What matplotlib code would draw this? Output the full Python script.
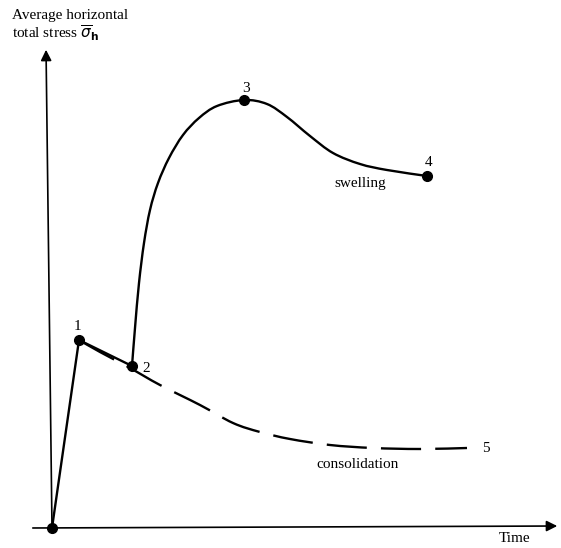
import numpy as np
import matplotlib.pyplot as plt
from matplotlib.path import Path
from matplotlib.patches import PathPatch

plt.rcParams['font.family'] = ['Liberation Serif', 'DejaVu Serif']

# loading path: start -> 1 -> 2
load_t = [0, 27, 80]
load_s = [0, 188, 162]

# swelling path: 2 -> 3 -> 4
swell_t = [80, 83, 87, 92, 98, 106, 117, 131, 147, 165, 192,
           215, 235, 258, 281, 308, 335, 375]
swell_s = [162, 200, 245, 285, 318, 345, 370, 393, 410, 422, 428,
           424, 411, 392, 375, 364, 358, 352]

# consolidation path: 1 -> 5
cons_t = [27, 48, 78, 108, 148, 181, 208, 238, 278, 321, 368, 415]
cons_s = [188, 176, 160, 143, 123, 105, 96, 89, 83, 80, 79, 80]

# labelled points
pt_t = [0, 27, 80, 192, 375]
pt_s = [0, 188, 162, 428, 352]


def smooth_path(xs, ys):
    # cubic bezier through the points (catmull-rom tangents)
    p = np.column_stack([xs, ys]).astype(float)
    verts = [p[0]]
    codes = [Path.MOVETO]
    for i in range(len(p) - 1):
        p0 = p[i - 1] if i > 0 else p[i]
        p3 = p[i + 2] if i + 2 < len(p) else p[i + 1]
        c1 = p[i] + (p[i + 1] - p0) / 6
        c2 = p[i + 1] - (p3 - p[i]) / 6
        verts += [c1, c2, p[i + 1]]
        codes += [Path.CURVE4] * 3
    return Path(verts, codes)


fig = plt.figure(figsize=(5.61, 5.48), dpi=100)
ax = fig.add_axes([0, 0, 1, 1])
ax.set_xlim(-52, 509)
ax.set_ylim(-20, 528)
ax.axis('off')

# axes with arrow heads
ax.annotate('', xy=(-6, 481), xytext=(0, 0),
            arrowprops=dict(arrowstyle='-|>', lw=1.2, color='black', mutation_scale=16))
ax.annotate('', xy=(508, 2), xytext=(-22, 0),
            arrowprops=dict(arrowstyle='-|>', lw=1.2, color='black', mutation_scale=16))

ax.plot(load_t, load_s, color='black', lw=1.7, solid_capstyle='round')
ax.add_patch(PathPatch(smooth_path(swell_t, swell_s), fill=False,
                       edgecolor='black', lw=1.7))
ax.add_patch(PathPatch(smooth_path(cons_t, cons_s), fill=False,
                       edgecolor='black', lw=1.7, linestyle=(0, (17, 6))))
ax.plot(pt_t, pt_s, 'o', color='black', ms=7)

fs = 11
ax.text(-40, 513, 'Average horizontal', fontsize=fs, va='center', ha='left')
ax.text(-40, 495, r'total stress $\overline{\sigma}_\mathbf{h}$', fontsize=fs, va='center', ha='left')
ax.text(25, 202, '1', fontsize=fs, ha='center', va='center')
ax.text(94, 160, '2', fontsize=fs, ha='center', va='center')
ax.text(194, 440, '3', fontsize=fs, ha='center', va='center')
ax.text(377, 365, '4', fontsize=fs, ha='center', va='center')
ax.text(434, 80, '5', fontsize=fs, ha='center', va='center')
ax.text(308, 345, 'swelling', fontsize=fs, ha='center', va='center')
ax.text(306, 63, 'consolidation', fontsize=fs, ha='center', va='center')
ax.text(463, -10, 'Time', fontsize=fs, ha='center', va='center')

fig.savefig('out.png', dpi=100)
